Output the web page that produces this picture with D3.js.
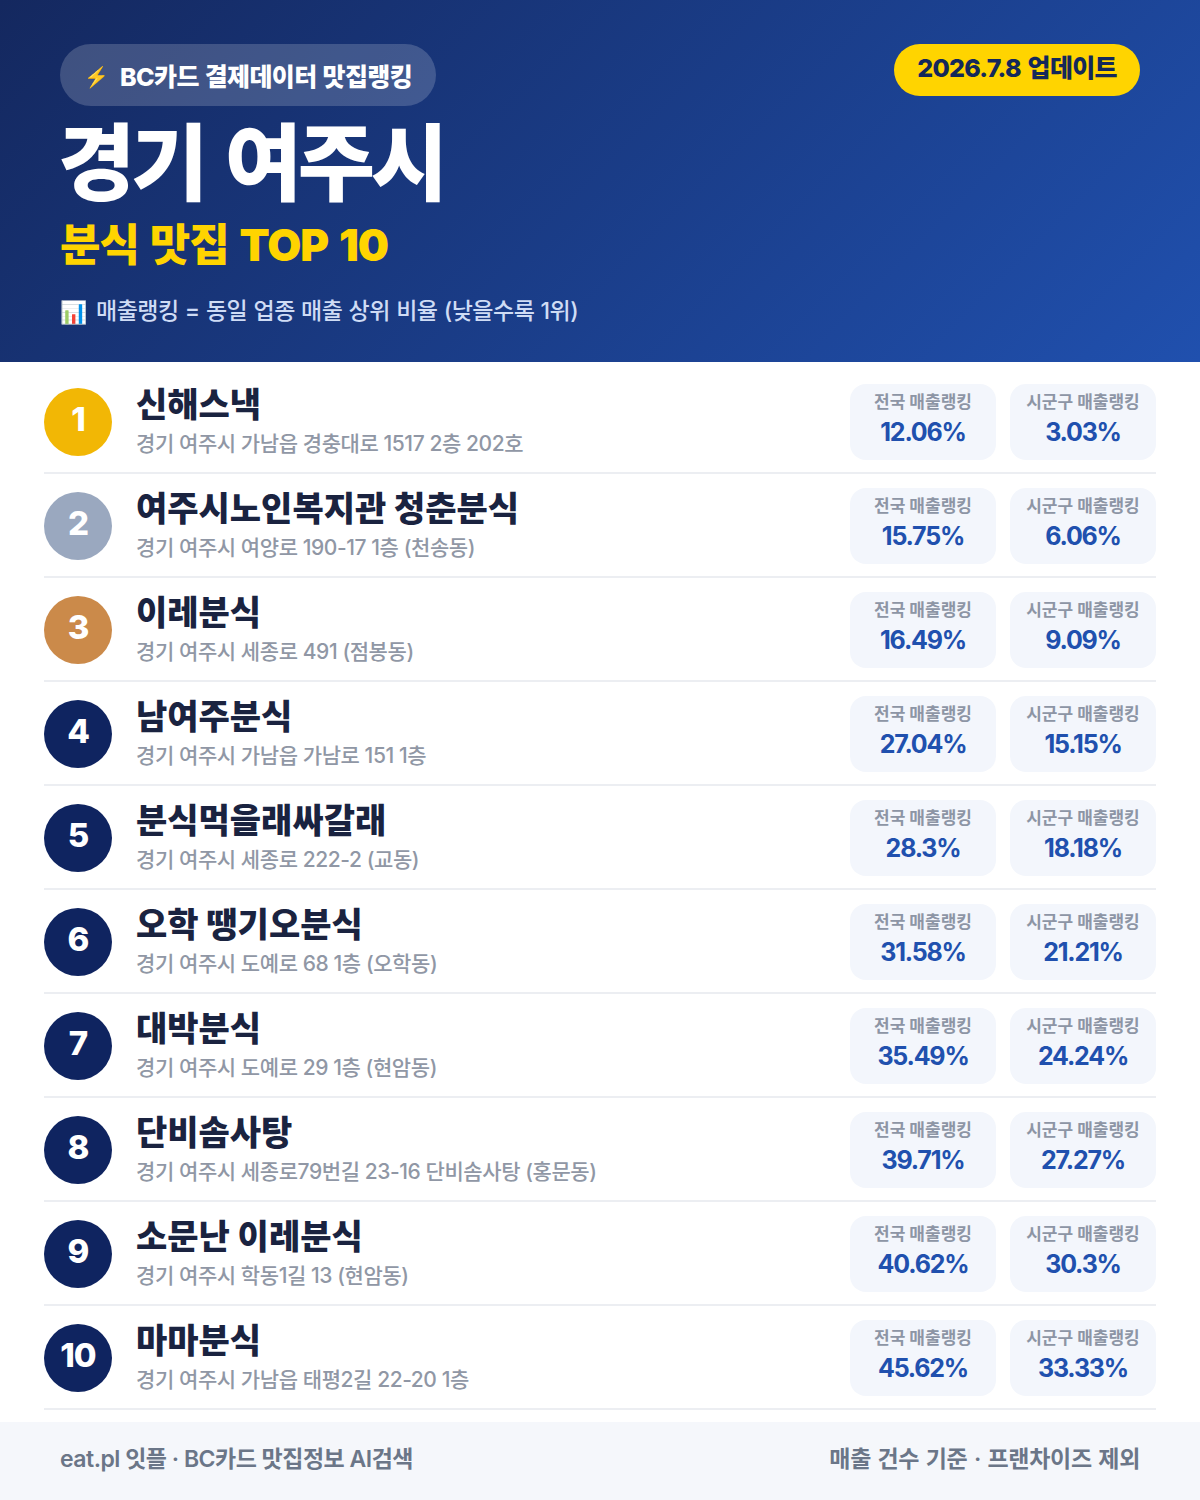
<!DOCTYPE html>
<html lang="ko"><head><meta charset="utf-8">
<script src="https://cdn.jsdelivr.net/npm/d3@7"></script>
<style>
html,body{margin:0;padding:0;background:#fff}
svg{display:block}
text{font-family:Inter,"Noto Sans CJK KR",sans-serif}
</style></head><body>
<svg id="c" width="1200" height="1500"></svg>
<script>
const ranks = ["1","2","3","4","5","6","7","8","9","10"];
const names = ["신해스낵","여주시노인복지관 청춘분식","이레분식","남여주분식","분식먹을래싸갈래","오학 땡기오분식","대박분식","단비솜사탕","소문난 이레분식","마마분식"];
const addresses = ["경기 여주시 가남읍 경충대로 1517 2층 202호","경기 여주시 여양로 190-17 1층 (천송동)","경기 여주시 세종로 491 (점봉동)","경기 여주시 가남읍 가남로 151 1층","경기 여주시 세종로 222-2 (교동)","경기 여주시 도예로 68 1층 (오학동)","경기 여주시 도예로 29 1층 (현암동)","경기 여주시 세종로79번길 23-16 단비솜사탕 (홍문동)","경기 여주시 학동1길 13 (현암동)","경기 여주시 가남읍 태평2길 22-20 1층"];
const nationalPct = ["12.06%","15.75%","16.49%","27.04%","28.3%","31.58%","35.49%","39.71%","40.62%","45.62%"];
const localPct = ["3.03%","6.06%","9.09%","15.15%","18.18%","21.21%","24.24%","27.27%","30.3%","33.33%"];
const medalColors = ["#f2b705","#9aa8bf","#cb8a4a"];

const svg = d3.select("#c");
const defs = svg.append("defs");
const g = defs.append("linearGradient").attr("id","hd").attr("gradientUnits","userSpaceOnUse")
  .attr("x1",210).attr("y1",-209).attr("x2",990).attr("y2",571);
g.append("stop").attr("offset","0").attr("stop-color","#14285f");
g.append("stop").attr("offset","1").attr("stop-color","#2050ae");
svg.append("rect").attr("width",1200).attr("height",362).attr("fill","url(#hd)");

function t(x,y,s,size,weight,fill,anchor,ls,ws){
  return svg.append("text").attr("x",x).attr("y",y).text(s).attr("font-size",size)
    .attr("font-weight",weight).attr("fill",fill).attr("text-anchor",anchor||"start")
    .attr("letter-spacing",ls||0).attr("word-spacing",ws||0);
}
svg.append("rect").attr("x",60).attr("y",44).attr("width",376).attr("height",62).attr("rx",31).attr("fill","#fff").attr("fill-opacity",.18);
t(84,84,"⚡",20,400,"#ffd400");
t(120,86,"BC카드 결제데이터 맛집랭킹",25,800,"#fff","start",-0.6,1);
svg.append("rect").attr("x",894).attr("y",44).attr("width",246).attr("height",52).attr("rx",26).attr("fill","#ffd400");
t(1017,77,"2026.7.8 업데이트",25,800,"#14285a","middle",-0.7,2);
t(58,194,"경기 여주시",84,900,"#fff","start",-4.2,8);
t(60,261,"분식 맛집 TOP 10",44,900,"#ffd400","start",-1,3);
t(60,320,"📊",22,400,"#fff");
t(96,319,"매출랭킹 = 동일 업종 매출 상위 비율 (낮을수록 1위)",23,500,"#cfdcf5","start",-0.5,0.6);

const y = d3.scaleBand().domain(ranks).range([370,1410]);
const rows = svg.selectAll("g.row").data(ranks).join("g").attr("class","row")
  .attr("transform",d=>`translate(0,${y(d)})`);
rows.append("line").attr("x1",44).attr("x2",1156).attr("y1",103).attr("y2",103).attr("stroke","#eceef2").attr("stroke-width",2);
rows.append("circle").attr("cx",78).attr("cy",52).attr("r",34).attr("fill",(d,i)=>medalColors[i]||"#0f2460");
rows.append("text").attr("x",78).attr("y",60.5).attr("text-anchor","middle").attr("font-size",33).attr("font-weight",800).attr("letter-spacing",-1).attr("fill","#fff").text(d=>d);
rows.append("text").attr("x",136).attr("y",47).attr("font-size",34).attr("font-weight",900).attr("word-spacing",1).attr("fill","#1a2340").text((d,i)=>names[i]);
rows.append("text").attr("x",136).attr("y",81).attr("font-size",21).attr("font-weight",500).attr("letter-spacing",-0.42).attr("fill","#9097a5").text((d,i)=>addresses[i]);
[[850,"전국 매출랭킹",nationalPct],[1010,"시군구 매출랭킹",localPct]].forEach(([x,lab,vals])=>{
  rows.append("rect").attr("x",x).attr("y",14).attr("width",146).attr("height",76).attr("rx",16).attr("fill","#f3f6fc");
  rows.append("text").attr("x",x+73).attr("y",37.5).attr("text-anchor","middle").attr("font-size",17).attr("font-weight",700).attr("fill","#8d95a5").text(lab);
  rows.append("text").attr("x",x+73).attr("y",71).attr("text-anchor","middle").attr("font-size",25).attr("font-weight",700).attr("letter-spacing",-1.2).attr("fill","#2050ae").text((d,i)=>vals[i]);
});
svg.append("rect").attr("y",1422).attr("width",1200).attr("height",78).attr("fill","#f5f7fb");
t(60,1467,"eat.pl 잇플 · BC카드 맛집정보 AI검색",23,600,"#6b7688","start",-0.5,0);
t(1140,1467,"매출 건수 기준 · 프랜차이즈 제외",23,600,"#6b7688","end",-0.3,1);
</script></body></html>
